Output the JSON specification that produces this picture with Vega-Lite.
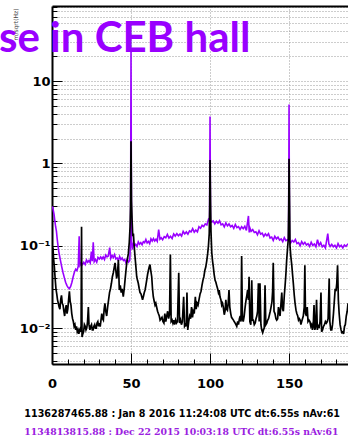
{
  "$schema": "https://vega.github.io/schema/vega-lite/v6.json",
  "width": 296,
  "height": 358,
  "autosize": {"type": "none"},
  "padding": {"left": 52, "top": 6, "right": 0, "bottom": 74},
  "background": "white",
  "config": {"view": {"stroke": null}, "font": "DejaVu Sans"},
  "title": {
    "text": "se in CEB hall",
    "anchor": "start",
    "frame": "group",
    "font": "Lato",
    "fontSize": 42,
    "fontWeight": "bold",
    "color": "#9900ff",
    "baseline": "alphabetic",
    "offset": 0,
    "dx": -53,
    "dy": 93,
    "zindex": 2
  },
  "datasets": {
    "spectra": [
      {"gps":"1134813815.88","f":0.3,"asd":0.30},{"gps":"1134813815.88","f":0.8,"asd":0.27},{"gps":"1134813815.88","f":1.3,"asd":0.24},{"gps":"1134813815.88","f":1.8,"asd":0.2},{"gps":"1134813815.88","f":2.3,"asd":0.17},{"gps":"1134813815.88","f":2.8,"asd":0.15},{"gps":"1134813815.88","f":3.3,"asd":0.12},{"gps":"1134813815.88","f":3.8,"asd":0.1},{"gps":"1134813815.88","f":4.3,"asd":0.085},{"gps":"1134813815.88","f":4.8,"asd":0.075},{"gps":"1134813815.88","f":5.5,"asd":0.064},{"gps":"1134813815.88","f":6.2,"asd":0.055},{"gps":"1134813815.88","f":7,"asd":0.047},{"gps":"1134813815.88","f":7.8,"asd":0.041},{"gps":"1134813815.88","f":8.6,"asd":0.036},{"gps":"1134813815.88","f":9.4,"asd":0.033},{"gps":"1134813815.88","f":10.2,"asd":0.031},{"gps":"1134813815.88","f":11,"asd":0.03},{"gps":"1134813815.88","f":11.8,"asd":0.032},{"gps":"1134813815.88","f":12.6,"asd":0.036},{"gps":"1134813815.88","f":13.4,"asd":0.042},{"gps":"1134813815.88","f":14.2,"asd":0.048},{"gps":"1134813815.88","f":15,"asd":0.052},{"gps":"1134813815.88","f":15.8,"asd":0.05},{"gps":"1134813815.88","f":16.6,"asd":0.056},{"gps":"1134813815.88","f":17.2,"asd":0.13},{"gps":"1134813815.88","f":17.7,"asd":0.058},{"gps":"1134813815.88","f":18.5,"asd":0.062},{"gps":"1134813815.88","f":19.3,"asd":0.059},{"gps":"1134813815.88","f":20.1,"asd":0.063},{"gps":"1134813815.88","f":21,"asd":0.059},{"gps":"1134813815.88","f":21.8,"asd":0.067},{"gps":"1134813815.88","f":22.6,"asd":0.063},{"gps":"1134813815.88","f":23.4,"asd":0.066},{"gps":"1134813815.88","f":24.2,"asd":0.062},{"gps":"1134813815.88","f":24.9,"asd":0.085},{"gps":"1134813815.88","f":25.5,"asd":0.065},{"gps":"1134813815.88","f":26.1,"asd":0.11},{"gps":"1134813815.88","f":26.7,"asd":0.064},{"gps":"1134813815.88","f":27.5,"asd":0.068},{"gps":"1134813815.88","f":28.3,"asd":0.063},{"gps":"1134813815.88","f":29.1,"asd":0.072},{"gps":"1134813815.88","f":30,"asd":0.069},{"gps":"1134813815.88","f":30.8,"asd":0.073},{"gps":"1134813815.88","f":31.6,"asd":0.069},{"gps":"1134813815.88","f":32.4,"asd":0.073},{"gps":"1134813815.88","f":33.2,"asd":0.068},{"gps":"1134813815.88","f":34,"asd":0.077},{"gps":"1134813815.88","f":34.8,"asd":0.073},{"gps":"1134813815.88","f":35.6,"asd":0.075},{"gps":"1134813815.88","f":36.5,"asd":0.095},{"gps":"1134813815.88","f":37.2,"asd":0.07},{"gps":"1134813815.88","f":38,"asd":0.076},{"gps":"1134813815.88","f":38.8,"asd":0.072},{"gps":"1134813815.88","f":39.6,"asd":0.078},{"gps":"1134813815.88","f":40.4,"asd":0.069},{"gps":"1134813815.88","f":41.2,"asd":0.071},{"gps":"1134813815.88","f":42,"asd":0.066},{"gps":"1134813815.88","f":42.8,"asd":0.074},{"gps":"1134813815.88","f":43.6,"asd":0.068},{"gps":"1134813815.88","f":44.4,"asd":0.071},{"gps":"1134813815.88","f":45.2,"asd":0.066},{"gps":"1134813815.88","f":46,"asd":0.068},{"gps":"1134813815.88","f":46.8,"asd":0.062},{"gps":"1134813815.88","f":47.6,"asd":0.069},{"gps":"1134813815.88","f":48.4,"asd":0.063},{"gps":"1134813815.88","f":49.2,"asd":0.066},{"gps":"1134813815.88","f":49.7,"asd":0.12},{"gps":"1134813815.88","f":50,"asd":24},{"gps":"1134813815.88","f":50.3,"asd":0.12},{"gps":"1134813815.88","f":50.8,"asd":0.09},{"gps":"1134813815.88","f":51.5,"asd":0.105},{"gps":"1134813815.88","f":52.3,"asd":0.099},{"gps":"1134813815.88","f":53,"asd":0.104},{"gps":"1134813815.88","f":53.8,"asd":0.098},{"gps":"1134813815.88","f":54.6,"asd":0.111},{"gps":"1134813815.88","f":55.4,"asd":0.104},{"gps":"1134813815.88","f":56.2,"asd":0.109},{"gps":"1134813815.88","f":57,"asd":0.103},{"gps":"1134813815.88","f":57.8,"asd":0.112},{"gps":"1134813815.88","f":58.6,"asd":0.109},{"gps":"1134813815.88","f":59.4,"asd":0.119},{"gps":"1134813815.88","f":60.2,"asd":0.108},{"gps":"1134813815.88","f":61,"asd":0.113},{"gps":"1134813815.88","f":61.8,"asd":0.106},{"gps":"1134813815.88","f":62.6,"asd":0.121},{"gps":"1134813815.88","f":63.4,"asd":0.114},{"gps":"1134813815.88","f":64.2,"asd":0.122},{"gps":"1134813815.88","f":65,"asd":0.114},{"gps":"1134813815.88","f":65.8,"asd":0.12},{"gps":"1134813815.88","f":66.6,"asd":0.113},{"gps":"1134813815.88","f":67.5,"asd":0.157},{"gps":"1134813815.88","f":68.3,"asd":0.12},{"gps":"1134813815.88","f":69.1,"asd":0.125},{"gps":"1134813815.88","f":70,"asd":0.118},{"gps":"1134813815.88","f":71,"asd":0.129},{"gps":"1134813815.88","f":72,"asd":0.125},{"gps":"1134813815.88","f":73,"asd":0.137},{"gps":"1134813815.88","f":74,"asd":0.124},{"gps":"1134813815.88","f":75,"asd":0.13},{"gps":"1134813815.88","f":76,"asd":0.122},{"gps":"1134813815.88","f":77,"asd":0.139},{"gps":"1134813815.88","f":78,"asd":0.131},{"gps":"1134813815.88","f":79,"asd":0.14},{"gps":"1134813815.88","f":80,"asd":0.132},{"gps":"1134813815.88","f":81,"asd":0.139},{"gps":"1134813815.88","f":82,"asd":0.131},{"gps":"1134813815.88","f":83,"asd":0.149},{"gps":"1134813815.88","f":84,"asd":0.139},{"gps":"1134813815.88","f":85,"asd":0.147},{"gps":"1134813815.88","f":86,"asd":0.138},{"gps":"1134813815.88","f":87,"asd":0.151},{"gps":"1134813815.88","f":88,"asd":0.147},{"gps":"1134813815.88","f":89,"asd":0.161},{"gps":"1134813815.88","f":90,"asd":0.146},{"gps":"1134813815.88","f":91,"asd":0.155},{"gps":"1134813815.88","f":92,"asd":0.147},{"gps":"1134813815.88","f":93,"asd":0.17},{"gps":"1134813815.88","f":94,"asd":0.163},{"gps":"1134813815.88","f":95,"asd":0.177},{"gps":"1134813815.88","f":96,"asd":0.171},{"gps":"1134813815.88","f":97,"asd":0.184},{"gps":"1134813815.88","f":98,"asd":0.179},{"gps":"1134813815.88","f":99,"asd":0.208},{"gps":"1134813815.88","f":99.7,"asd":0.2},{"gps":"1134813815.88","f":100,"asd":3.7},{"gps":"1134813815.88","f":100.3,"asd":0.2},{"gps":"1134813815.88","f":101,"asd":0.194},{"gps":"1134813815.88","f":102,"asd":0.2},{"gps":"1134813815.88","f":103,"asd":0.184},{"gps":"1134813815.88","f":104,"asd":0.198},{"gps":"1134813815.88","f":105,"asd":0.188},{"gps":"1134813815.88","f":106,"asd":0.201},{"gps":"1134813815.88","f":107,"asd":0.179},{"gps":"1134813815.88","f":108,"asd":0.184},{"gps":"1134813815.88","f":109,"asd":0.169},{"gps":"1134813815.88","f":110,"asd":0.189},{"gps":"1134813815.88","f":111,"asd":0.174},{"gps":"1134813815.88","f":112,"asd":0.184},{"gps":"1134813815.88","f":113,"asd":0.17},{"gps":"1134813815.88","f":114,"asd":0.176},{"gps":"1134813815.88","f":115,"asd":0.162},{"gps":"1134813815.88","f":116,"asd":0.181},{"gps":"1134813815.88","f":117,"asd":0.166},{"gps":"1134813815.88","f":118,"asd":0.171},{"gps":"1134813815.88","f":119,"asd":0.158},{"gps":"1134813815.88","f":120,"asd":0.17},{"gps":"1134813815.88","f":121,"asd":0.161},{"gps":"1134813815.88","f":122,"asd":0.172},{"gps":"1134813815.88","f":123,"asd":0.153},{"gps":"1134813815.88","f":124.3,"asd":0.23},{"gps":"1134813815.88","f":124.8,"asd":0.145},{"gps":"1134813815.88","f":125.3,"asd":0.163},{"gps":"1134813815.88","f":126,"asd":0.15},{"gps":"1134813815.88","f":127,"asd":0.157},{"gps":"1134813815.88","f":128,"asd":0.145},{"gps":"1134813815.88","f":129,"asd":0.148},{"gps":"1134813815.88","f":130,"asd":0.136},{"gps":"1134813815.88","f":131,"asd":0.152},{"gps":"1134813815.88","f":132,"asd":0.138},{"gps":"1134813815.88","f":133,"asd":0.142},{"gps":"1134813815.88","f":134,"asd":0.13},{"gps":"1134813815.88","f":135,"asd":0.139},{"gps":"1134813815.88","f":136,"asd":0.132},{"gps":"1134813815.88","f":137,"asd":0.14},{"gps":"1134813815.88","f":138,"asd":0.124},{"gps":"1134813815.88","f":139,"asd":0.127},{"gps":"1134813815.88","f":140,"asd":0.116},{"gps":"1134813815.88","f":141,"asd":0.13},{"gps":"1134813815.88","f":142,"asd":0.121},{"gps":"1134813815.88","f":143,"asd":0.127},{"gps":"1134813815.88","f":144,"asd":0.117},{"gps":"1134813815.88","f":145,"asd":0.121},{"gps":"1134813815.88","f":146,"asd":0.112},{"gps":"1134813815.88","f":147,"asd":0.125},{"gps":"1134813815.88","f":148,"asd":0.115},{"gps":"1134813815.88","f":149,"asd":0.118},{"gps":"1134813815.88","f":149.7,"asd":0.116},{"gps":"1134813815.88","f":150,"asd":5.2},{"gps":"1134813815.88","f":150.3,"asd":0.116},{"gps":"1134813815.88","f":151,"asd":0.108},{"gps":"1134813815.88","f":152,"asd":0.116},{"gps":"1134813815.88","f":153,"asd":0.111},{"gps":"1134813815.88","f":154,"asd":0.119},{"gps":"1134813815.88","f":155,"asd":0.106},{"gps":"1134813815.88","f":156,"asd":0.109},{"gps":"1134813815.88","f":157,"asd":0.1},{"gps":"1134813815.88","f":158,"asd":0.112},{"gps":"1134813815.88","f":159,"asd":0.104},{"gps":"1134813815.88","f":160,"asd":0.11},{"gps":"1134813815.88","f":161,"asd":0.102},{"gps":"1134813815.88","f":162,"asd":0.106},{"gps":"1134813815.88","f":163,"asd":0.098},{"gps":"1134813815.88","f":164,"asd":0.11},{"gps":"1134813815.88","f":165,"asd":0.101},{"gps":"1134813815.88","f":166,"asd":0.105},{"gps":"1134813815.88","f":167,"asd":0.097},{"gps":"1134813815.88","f":168,"asd":0.118},{"gps":"1134813815.88","f":169,"asd":0.101},{"gps":"1134813815.88","f":170,"asd":0.109},{"gps":"1134813815.88","f":171,"asd":0.097},{"gps":"1134813815.88","f":172,"asd":0.101},{"gps":"1134813815.88","f":173,"asd":0.094},{"gps":"1134813815.88","f":174.5,"asd":0.14},{"gps":"1134813815.88","f":175.2,"asd":0.105},{"gps":"1134813815.88","f":176,"asd":0.098},{"gps":"1134813815.88","f":177,"asd":0.104},{"gps":"1134813815.88","f":178,"asd":0.097},{"gps":"1134813815.88","f":179,"asd":0.101},{"gps":"1134813815.88","f":180,"asd":0.094},{"gps":"1134813815.88","f":181,"asd":0.106},{"gps":"1134813815.88","f":182,"asd":0.097},{"gps":"1134813815.88","f":183,"asd":0.101},{"gps":"1134813815.88","f":184,"asd":0.094},{"gps":"1134813815.88","f":185,"asd":0.102},{"gps":"1134813815.88","f":186,"asd":0.098},{"gps":"1134813815.88","f":187.3,"asd":0.106},

      {"gps":"1136287465.88","f":0.3,"asd":0.075},{"gps":"1136287465.88","f":0.6,"asd":0.095},{"gps":"1136287465.88","f":1,"asd":0.07},{"gps":"1136287465.88","f":1.5,"asd":0.055},{"gps":"1136287465.88","f":2,"asd":0.04},{"gps":"1136287465.88","f":2.5,"asd":0.03},{"gps":"1136287465.88","f":3,"asd":0.026},{"gps":"1136287465.88","f":3.5,"asd":0.022},{"gps":"1136287465.88","f":4,"asd":0.02},{"gps":"1136287465.88","f":4.5,"asd":0.018},{"gps":"1136287465.88","f":5,"asd":0.017},{"gps":"1136287465.88","f":5.5,"asd":0.022},{"gps":"1136287465.88","f":6,"asd":0.025},{"gps":"1136287465.88","f":6.5,"asd":0.02},{"gps":"1136287465.88","f":7,"asd":0.019},{"gps":"1136287465.88","f":7.5,"asd":0.016},{"gps":"1136287465.88","f":8,"asd":0.014},{"gps":"1136287465.88","f":8.5,"asd":0.017},{"gps":"1136287465.88","f":9,"asd":0.019},{"gps":"1136287465.88","f":9.5,"asd":0.015},{"gps":"1136287465.88","f":10,"asd":0.017},{"gps":"1136287465.88","f":10.5,"asd":0.022},{"gps":"1136287465.88","f":11,"asd":0.028},{"gps":"1136287465.88","f":11.5,"asd":0.021},{"gps":"1136287465.88","f":12,"asd":0.019},{"gps":"1136287465.88","f":12.5,"asd":0.015},{"gps":"1136287465.88","f":13,"asd":0.013},{"gps":"1136287465.88","f":13.5,"asd":0.012},{"gps":"1136287465.88","f":14,"asd":0.0105},{"gps":"1136287465.88","f":14.5,"asd":0.011},{"gps":"1136287465.88","f":15,"asd":0.0095},{"gps":"1136287465.88","f":15.5,"asd":0.0105},{"gps":"1136287465.88","f":16,"asd":0.009},{"gps":"1136287465.88","f":16.5,"asd":0.0095},{"gps":"1136287465.88","f":17,"asd":0.0085},{"gps":"1136287465.88","f":17.5,"asd":0.0095},{"gps":"1136287465.88","f":18,"asd":0.01},{"gps":"1136287465.88","f":18.4,"asd":0.009},{"gps":"1136287465.88","f":18.7,"asd":0.17},{"gps":"1136287465.88","f":19,"asd":0.0078},{"gps":"1136287465.88","f":19.5,"asd":0.0085},{"gps":"1136287465.88","f":20,"asd":0.009},{"gps":"1136287465.88","f":20.5,"asd":0.011},{"gps":"1136287465.88","f":21,"asd":0.0105},{"gps":"1136287465.88","f":21.5,"asd":0.0095},{"gps":"1136287465.88","f":22,"asd":0.01},{"gps":"1136287465.88","f":22.5,"asd":0.012},{"gps":"1136287465.88","f":23,"asd":0.018},{"gps":"1136287465.88","f":23.4,"asd":0.011},{"gps":"1136287465.88","f":24,"asd":0.0095},{"gps":"1136287465.88","f":24.5,"asd":0.0105},{"gps":"1136287465.88","f":25,"asd":0.011},{"gps":"1136287465.88","f":25.5,"asd":0.0095},{"gps":"1136287465.88","f":26,"asd":0.0095},{"gps":"1136287465.88","f":26.5,"asd":0.0105},{"gps":"1136287465.88","f":27,"asd":0.011},{"gps":"1136287465.88","f":27.5,"asd":0.01},{"gps":"1136287465.88","f":28,"asd":0.01},{"gps":"1136287465.88","f":28.5,"asd":0.0115},{"gps":"1136287465.88","f":29,"asd":0.012},{"gps":"1136287465.88","f":29.5,"asd":0.0105},{"gps":"1136287465.88","f":30,"asd":0.0115},{"gps":"1136287465.88","f":30.5,"asd":0.0104},{"gps":"1136287465.88","f":31,"asd":0.0125},{"gps":"1136287465.88","f":31.5,"asd":0.015},{"gps":"1136287465.88","f":32,"asd":0.013},{"gps":"1136287465.88","f":32.5,"asd":0.0125},{"gps":"1136287465.88","f":33,"asd":0.017},{"gps":"1136287465.88","f":33.5,"asd":0.02},{"gps":"1136287465.88","f":34,"asd":0.016},{"gps":"1136287465.88","f":34.6,"asd":0.014},{"gps":"1136287465.88","f":35.2,"asd":0.018},{"gps":"1136287465.88","f":35.8,"asd":0.022},{"gps":"1136287465.88","f":36.4,"asd":0.027},{"gps":"1136287465.88","f":37,"asd":0.03},{"gps":"1136287465.88","f":37.6,"asd":0.035},{"gps":"1136287465.88","f":38.2,"asd":0.042},{"gps":"1136287465.88","f":38.8,"asd":0.047},{"gps":"1136287465.88","f":39.4,"asd":0.055},{"gps":"1136287465.88","f":39.9,"asd":0.062},{"gps":"1136287465.88","f":40.4,"asd":0.05},{"gps":"1136287465.88","f":40.9,"asd":0.04},{"gps":"1136287465.88","f":41.4,"asd":0.045},{"gps":"1136287465.88","f":42,"asd":0.067},{"gps":"1136287465.88","f":42.6,"asd":0.029},{"gps":"1136287465.88","f":43.2,"asd":0.033},{"gps":"1136287465.88","f":43.8,"asd":0.027},{"gps":"1136287465.88","f":44.4,"asd":0.03},{"gps":"1136287465.88","f":45.1,"asd":0.024},{"gps":"1136287465.88","f":45.7,"asd":0.03},{"gps":"1136287465.88","f":46.2,"asd":0.038},{"gps":"1136287465.88","f":46.8,"asd":0.05},{"gps":"1136287465.88","f":47.3,"asd":0.062},{"gps":"1136287465.88","f":47.8,"asd":0.07},{"gps":"1136287465.88","f":48.3,"asd":0.08},{"gps":"1136287465.88","f":48.9,"asd":0.11},{"gps":"1136287465.88","f":49.4,"asd":0.17},{"gps":"1136287465.88","f":49.7,"asd":0.3},{"gps":"1136287465.88","f":50,"asd":1.85},{"gps":"1136287465.88","f":50.3,"asd":0.35},{"gps":"1136287465.88","f":50.7,"asd":0.2},{"gps":"1136287465.88","f":51.1,"asd":0.13},{"gps":"1136287465.88","f":51.5,"asd":0.14},{"gps":"1136287465.88","f":52,"asd":0.1},{"gps":"1136287465.88","f":52.5,"asd":0.075},{"gps":"1136287465.88","f":53,"asd":0.058},{"gps":"1136287465.88","f":53.6,"asd":0.042},{"gps":"1136287465.88","f":54.1,"asd":0.038},{"gps":"1136287465.88","f":54.6,"asd":0.035},{"gps":"1136287465.88","f":55.2,"asd":0.03},{"gps":"1136287465.88","f":55.7,"asd":0.027},{"gps":"1136287465.88","f":56.3,"asd":0.026},{"gps":"1136287465.88","f":56.8,"asd":0.024},{"gps":"1136287465.88","f":57.3,"asd":0.022},{"gps":"1136287465.88","f":57.8,"asd":0.024},{"gps":"1136287465.88","f":58.4,"asd":0.027},{"gps":"1136287465.88","f":58.9,"asd":0.029},{"gps":"1136287465.88","f":59.4,"asd":0.033},{"gps":"1136287465.88","f":59.9,"asd":0.038},{"gps":"1136287465.88","f":60.5,"asd":0.045},{"gps":"1136287465.88","f":61,"asd":0.05},{"gps":"1136287465.88","f":61.5,"asd":0.055},{"gps":"1136287465.88","f":62,"asd":0.059},{"gps":"1136287465.88","f":62.5,"asd":0.05},{"gps":"1136287465.88","f":63.1,"asd":0.042},{"gps":"1136287465.88","f":63.6,"asd":0.03},{"gps":"1136287465.88","f":64.1,"asd":0.024},{"gps":"1136287465.88","f":64.7,"asd":0.021},{"gps":"1136287465.88","f":65.2,"asd":0.019},{"gps":"1136287465.88","f":65.7,"asd":0.02},{"gps":"1136287465.88","f":66.2,"asd":0.018},{"gps":"1136287465.88","f":66.8,"asd":0.016},{"gps":"1136287465.88","f":67.3,"asd":0.015},{"gps":"1136287465.88","f":67.9,"asd":0.014},{"gps":"1136287465.88","f":68.4,"asd":0.0125},{"gps":"1136287465.88","f":69,"asd":0.013},{"gps":"1136287465.88","f":69.6,"asd":0.0135},{"gps":"1136287465.88","f":70.2,"asd":0.012},{"gps":"1136287465.88","f":70.8,"asd":0.0115},{"gps":"1136287465.88","f":71.4,"asd":0.015},{"gps":"1136287465.88","f":72,"asd":0.012},{"gps":"1136287465.88","f":72.6,"asd":0.014},{"gps":"1136287465.88","f":73.2,"asd":0.016},{"gps":"1136287465.88","f":73.8,"asd":0.013},{"gps":"1136287465.88","f":74.4,"asd":0.015},{"gps":"1136287465.88","f":74.9,"asd":0.078},{"gps":"1136287465.88","f":75.4,"asd":0.012},{"gps":"1136287465.88","f":76,"asd":0.0125},{"gps":"1136287465.88","f":76.5,"asd":0.0115},{"gps":"1136287465.88","f":77,"asd":0.0125},{"gps":"1136287465.88","f":77.6,"asd":0.011},{"gps":"1136287465.88","f":78.2,"asd":0.0125},{"gps":"1136287465.88","f":78.8,"asd":0.0115},{"gps":"1136287465.88","f":79.4,"asd":0.012},{"gps":"1136287465.88","f":80.2,"asd":0.047},{"gps":"1136287465.88","f":80.7,"asd":0.0115},{"gps":"1136287465.88","f":81.3,"asd":0.0125},{"gps":"1136287465.88","f":81.9,"asd":0.011},{"gps":"1136287465.88","f":82.5,"asd":0.012},{"gps":"1136287465.88","f":83.3,"asd":0.024},{"gps":"1136287465.88","f":83.9,"asd":0.0105},{"gps":"1136287465.88","f":84.5,"asd":0.011},{"gps":"1136287465.88","f":85,"asd":0.0105},{"gps":"1136287465.88","f":85.4,"asd":0.027},{"gps":"1136287465.88","f":85.9,"asd":0.0095},{"gps":"1136287465.88","f":86.5,"asd":0.012},{"gps":"1136287465.88","f":87.1,"asd":0.014},{"gps":"1136287465.88","f":87.7,"asd":0.013},{"gps":"1136287465.88","f":88.3,"asd":0.018},{"gps":"1136287465.88","f":88.9,"asd":0.0135},{"gps":"1136287465.88","f":89.4,"asd":0.016},{"gps":"1136287465.88","f":90,"asd":0.015},{"gps":"1136287465.88","f":90.7,"asd":0.024},{"gps":"1136287465.88","f":91.2,"asd":0.017},{"gps":"1136287465.88","f":91.8,"asd":0.02},{"gps":"1136287465.88","f":92.4,"asd":0.019},{"gps":"1136287465.88","f":93,"asd":0.022},{"gps":"1136287465.88","f":93.7,"asd":0.026},{"gps":"1136287465.88","f":94.3,"asd":0.028},{"gps":"1136287465.88","f":94.9,"asd":0.033},{"gps":"1136287465.88","f":95.5,"asd":0.038},{"gps":"1136287465.88","f":96.1,"asd":0.042},{"gps":"1136287465.88","f":96.7,"asd":0.05},{"gps":"1136287465.88","f":97.3,"asd":0.055},{"gps":"1136287465.88","f":97.9,"asd":0.065},{"gps":"1136287465.88","f":98.5,"asd":0.08},{"gps":"1136287465.88","f":99,"asd":0.1},{"gps":"1136287465.88","f":99.5,"asd":0.14},{"gps":"1136287465.88","f":99.8,"asd":0.3},{"gps":"1136287465.88","f":100,"asd":1.1},{"gps":"1136287465.88","f":100.3,"asd":0.35},{"gps":"1136287465.88","f":100.6,"asd":0.15},{"gps":"1136287465.88","f":101.1,"asd":0.082},{"gps":"1136287465.88","f":101.6,"asd":0.065},{"gps":"1136287465.88","f":102.1,"asd":0.055},{"gps":"1136287465.88","f":102.6,"asd":0.045},{"gps":"1136287465.88","f":103.2,"asd":0.038},{"gps":"1136287465.88","f":103.7,"asd":0.036},{"gps":"1136287465.88","f":104.2,"asd":0.033},{"gps":"1136287465.88","f":104.8,"asd":0.03},{"gps":"1136287465.88","f":105.3,"asd":0.027},{"gps":"1136287465.88","f":105.8,"asd":0.029},{"gps":"1136287465.88","f":106.3,"asd":0.024},{"gps":"1136287465.88","f":106.9,"asd":0.022},{"gps":"1136287465.88","f":107.4,"asd":0.019},{"gps":"1136287465.88","f":107.9,"asd":0.02},{"gps":"1136287465.88","f":108.4,"asd":0.018},{"gps":"1136287465.88","f":109,"asd":0.0145},{"gps":"1136287465.88","f":109.5,"asd":0.016},{"gps":"1136287465.88","f":110,"asd":0.022},{"gps":"1136287465.88","f":110.5,"asd":0.017},{"gps":"1136287465.88","f":111,"asd":0.0165},{"gps":"1136287465.88","f":111.5,"asd":0.02},{"gps":"1136287465.88","f":112,"asd":0.029},{"gps":"1136287465.88","f":112.5,"asd":0.018},{"gps":"1136287465.88","f":113.1,"asd":0.015},{"gps":"1136287465.88","f":113.6,"asd":0.0135},{"gps":"1136287465.88","f":114.2,"asd":0.013},{"gps":"1136287465.88","f":114.8,"asd":0.0125},{"gps":"1136287465.88","f":115.3,"asd":0.012},{"gps":"1136287465.88","f":115.9,"asd":0.0115},{"gps":"1136287465.88","f":116.4,"asd":0.011},{"gps":"1136287465.88","f":116.9,"asd":0.0105},{"gps":"1136287465.88","f":117.5,"asd":0.012},{"gps":"1136287465.88","f":118,"asd":0.011},{"gps":"1136287465.88","f":118.6,"asd":0.013},{"gps":"1136287465.88","f":119.1,"asd":0.014},{"gps":"1136287465.88","f":119.6,"asd":0.012},{"gps":"1136287465.88","f":120,"asd":0.075},{"gps":"1136287465.88","f":120.5,"asd":0.013},{"gps":"1136287465.88","f":121,"asd":0.012},{"gps":"1136287465.88","f":121.6,"asd":0.014},{"gps":"1136287465.88","f":122.2,"asd":0.018},{"gps":"1136287465.88","f":122.8,"asd":0.022},{"gps":"1136287465.88","f":123.3,"asd":0.025},{"gps":"1136287465.88","f":123.8,"asd":0.029},{"gps":"1136287465.88","f":124.3,"asd":0.022},{"gps":"1136287465.88","f":124.7,"asd":0.042},{"gps":"1136287465.88","f":125.2,"asd":0.012},{"gps":"1136287465.88","f":125.8,"asd":0.011},{"gps":"1136287465.88","f":126.4,"asd":0.038},{"gps":"1136287465.88","f":126.9,"asd":0.0125},{"gps":"1136287465.88","f":127.4,"asd":0.0125},{"gps":"1136287465.88","f":128,"asd":0.011},{"gps":"1136287465.88","f":128.6,"asd":0.0115},{"gps":"1136287465.88","f":129.1,"asd":0.013},{"gps":"1136287465.88","f":129.6,"asd":0.014},{"gps":"1136287465.88","f":130.1,"asd":0.016},{"gps":"1136287465.88","f":130.6,"asd":0.035},{"gps":"1136287465.88","f":131.1,"asd":0.012},{"gps":"1136287465.88","f":131.6,"asd":0.035},{"gps":"1136287465.88","f":132.2,"asd":0.011},{"gps":"1136287465.88","f":132.7,"asd":0.0095},{"gps":"1136287465.88","f":133.3,"asd":0.0088},{"gps":"1136287465.88","f":133.8,"asd":0.0095},{"gps":"1136287465.88","f":134.3,"asd":0.01},{"gps":"1136287465.88","f":134.8,"asd":0.033},{"gps":"1136287465.88","f":135.3,"asd":0.011},{"gps":"1136287465.88","f":135.9,"asd":0.0115},{"gps":"1136287465.88","f":136.5,"asd":0.0125},{"gps":"1136287465.88","f":137,"asd":0.013},{"gps":"1136287465.88","f":137.6,"asd":0.0145},{"gps":"1136287465.88","f":138.1,"asd":0.016},{"gps":"1136287465.88","f":138.6,"asd":0.018},{"gps":"1136287465.88","f":139.2,"asd":0.021},{"gps":"1136287465.88","f":139.6,"asd":0.028},{"gps":"1136287465.88","f":140,"asd":0.062},{"gps":"1136287465.88","f":140.5,"asd":0.016},{"gps":"1136287465.88","f":141.1,"asd":0.015},{"gps":"1136287465.88","f":141.7,"asd":0.013},{"gps":"1136287465.88","f":142.2,"asd":0.0125},{"gps":"1136287465.88","f":142.8,"asd":0.013},{"gps":"1136287465.88","f":143.3,"asd":0.018},{"gps":"1136287465.88","f":143.8,"asd":0.016},{"gps":"1136287465.88","f":144.3,"asd":0.014},{"gps":"1136287465.88","f":144.9,"asd":0.02},{"gps":"1136287465.88","f":145.4,"asd":0.027},{"gps":"1136287465.88","f":145.9,"asd":0.017},{"gps":"1136287465.88","f":146.4,"asd":0.016},{"gps":"1136287465.88","f":147,"asd":0.025},{"gps":"1136287465.88","f":147.5,"asd":0.033},{"gps":"1136287465.88","f":148,"asd":0.045},{"gps":"1136287465.88","f":148.5,"asd":0.067},{"gps":"1136287465.88","f":149,"asd":0.09},{"gps":"1136287465.88","f":149.5,"asd":0.12},{"gps":"1136287465.88","f":149.8,"asd":0.3},{"gps":"1136287465.88","f":150,"asd":1.14},{"gps":"1136287465.88","f":150.3,"asd":0.35},{"gps":"1136287465.88","f":150.6,"asd":0.1},{"gps":"1136287465.88","f":151.1,"asd":0.075},{"gps":"1136287465.88","f":151.7,"asd":0.059},{"gps":"1136287465.88","f":152.2,"asd":0.045},{"gps":"1136287465.88","f":152.7,"asd":0.035},{"gps":"1136287465.88","f":153.3,"asd":0.025},{"gps":"1136287465.88","f":153.8,"asd":0.02},{"gps":"1136287465.88","f":154.4,"asd":0.0165},{"gps":"1136287465.88","f":154.9,"asd":0.015},{"gps":"1136287465.88","f":155.5,"asd":0.014},{"gps":"1136287465.88","f":156,"asd":0.0125},{"gps":"1136287465.88","f":156.5,"asd":0.013},{"gps":"1136287465.88","f":157,"asd":0.0125},{"gps":"1136287465.88","f":157.5,"asd":0.011},{"gps":"1136287465.88","f":158,"asd":0.012},{"gps":"1136287465.88","f":158.5,"asd":0.013},{"gps":"1136287465.88","f":159,"asd":0.014},{"gps":"1136287465.88","f":159.6,"asd":0.018},{"gps":"1136287465.88","f":160,"asd":0.058},{"gps":"1136287465.88","f":160.4,"asd":0.015},{"gps":"1136287465.88","f":161,"asd":0.014},{"gps":"1136287465.88","f":161.5,"asd":0.018},{"gps":"1136287465.88","f":162,"asd":0.012},{"gps":"1136287465.88","f":162.6,"asd":0.0125},{"gps":"1136287465.88","f":163.2,"asd":0.012},{"gps":"1136287465.88","f":163.8,"asd":0.0105},{"gps":"1136287465.88","f":164.3,"asd":0.011},{"gps":"1136287465.88","f":164.8,"asd":0.0095},{"gps":"1136287465.88","f":165.3,"asd":0.0105},{"gps":"1136287465.88","f":165.8,"asd":0.019},{"gps":"1136287465.88","f":166.3,"asd":0.0095},{"gps":"1136287465.88","f":166.9,"asd":0.0105},{"gps":"1136287465.88","f":167.4,"asd":0.022},{"gps":"1136287465.88","f":167.9,"asd":0.0095},{"gps":"1136287465.88","f":168.5,"asd":0.011},{"gps":"1136287465.88","f":169,"asd":0.01},{"gps":"1136287465.88","f":169.6,"asd":0.012},{"gps":"1136287465.88","f":170.2,"asd":0.027},{"gps":"1136287465.88","f":170.6,"asd":0.009},{"gps":"1136287465.88","f":171.2,"asd":0.0095},{"gps":"1136287465.88","f":171.8,"asd":0.0105},{"gps":"1136287465.88","f":172.4,"asd":0.011},{"gps":"1136287465.88","f":173,"asd":0.012},{"gps":"1136287465.88","f":173.6,"asd":0.0115},{"gps":"1136287465.88","f":174.2,"asd":0.012},{"gps":"1136287465.88","f":174.7,"asd":0.013},{"gps":"1136287465.88","f":175.4,"asd":0.04},{"gps":"1136287465.88","f":175.8,"asd":0.012},{"gps":"1136287465.88","f":176.4,"asd":0.0095},{"gps":"1136287465.88","f":177,"asd":0.0095},{"gps":"1136287465.88","f":177.5,"asd":0.011},{"gps":"1136287465.88","f":178.1,"asd":0.015},{"gps":"1136287465.88","f":178.7,"asd":0.022},{"gps":"1136287465.88","f":179.2,"asd":0.03},{"gps":"1136287465.88","f":179.7,"asd":0.028},{"gps":"1136287465.88","f":180.2,"asd":0.035},{"gps":"1136287465.88","f":180.7,"asd":0.058},{"gps":"1136287465.88","f":181.2,"asd":0.022},{"gps":"1136287465.88","f":181.7,"asd":0.015},{"gps":"1136287465.88","f":182.3,"asd":0.011},{"gps":"1136287465.88","f":182.9,"asd":0.0095},{"gps":"1136287465.88","f":183.4,"asd":0.0088},{"gps":"1136287465.88","f":184,"asd":0.009},{"gps":"1136287465.88","f":184.5,"asd":0.0085},{"gps":"1136287465.88","f":185.1,"asd":0.0105},{"gps":"1136287465.88","f":185.6,"asd":0.011},{"gps":"1136287465.88","f":186.2,"asd":0.014},{"gps":"1136287465.88","f":186.8,"asd":0.016},{"gps":"1136287465.88","f":187.3,"asd":0.02}
    ]
  },
  "data": {"name": "spectra"},
  "encoding": {
    "y": {
      "field": "asd",
      "type": "quantitative",
      "scale": {"type": "log", "domain": [0.00366, 81.5], "nice": false},
      "axis": {
        "values": [0.004,0.005,0.006,0.007,0.008,0.009,0.01,0.02,0.03,0.04,0.05,0.06,0.07,0.08,0.09,0.1,0.2,0.3,0.4,0.5,0.6,0.7,0.8,0.9,1,2,3,4,5,6,7,8,9,10,20,30,40,50,60,70,80],
        "labelExpr": "datum.value == 10 ? '10' : datum.value == 1 ? '1' : datum.value == 0.1 ? '10⁻¹' : datum.value == 0.01 ? '10⁻²' : ''",
        "labelOverlap": false,
        "labelFlush": false,
        "labelFont": "DejaVu Sans",
        "labelFontSize": 13,
        "labelFontWeight": "bold",
        "labelColor": "#000000",
        "labelPadding": 12,
        "tickSize": {"condition": {"test": "datum.value == 10 || datum.value == 1 || datum.value == 0.1 || datum.value == 0.01", "value": -10}, "value": -5},
        "tickColor": "#000000",
        "tickWidth": 1,
        "domainColor": "#000000",
        "domainWidth": 2,
        "grid": true,
        "gridColor": "#9a9a9a",
        "gridDash": [1, 2],
        "gridWidth": 1,
        "title": "m/sqrt(Hz)",
        "titleFont": "DejaVu Sans",
        "titleFontSize": 6,
        "titleFontWeight": "normal",
        "titleColor": "#444444",
        "titleAngle": 270,
        "titleAlign": "right",
        "titleBaseline": "middle",
        "titleX": -37,
        "titleY": 2
      }
    },
    "color": {
      "field": "gps",
      "type": "nominal",
      "scale": {"domain": ["1136287465.88", "1134813815.88"], "range": ["#000000", "#9900ff"]},
      "legend": {
        "orient": "none",
        "legendX": -37,
        "legendY": 403,
        "direction": "vertical",
        "title": null,
        "symbolSize": 0,
        "symbolOpacity": 0,
        "symbolStrokeWidth": 0,
        "labelOffset": 0,
        "labelLimit": 500,
        "rowPadding": 8,
        "labelExpr": "datum.value == '1136287465.88' ? '1136287465.88 : Jan  8 2016 11:24:08 UTC dt:6.55s nAv:61' : '1134813815.88 : Dec 22 2015 10:03:18 UTC dt:6.55s nAv:61'",
        "encode": {
          "labels": {
            "update": {
              "fill": {"signal": "datum.value == '1136287465.88' ? '#000000' : '#9a20e0'"},
              "font": {"signal": "datum.value == '1136287465.88' ? 'DejaVu Sans' : 'DejaVu Serif'"},
              "fontSize": {"signal": "datum.value == '1136287465.88' ? 9.6 : 9.3"},
              "fontWeight": {"value": "bold"}
            }
          }
        }
      }
    }
  },
  "layer": [
    {
      "transform": [{"filter": "datum.gps == '1134813815.88'"}],
      "mark": {"type": "line", "strokeWidth": 1.6, "clip": true, "interpolate": "linear"},
      "encoding": {
        "x": {
          "field": "f",
          "type": "quantitative",
          "scale": {"domain": [0, 187.3], "nice": false, "zero": false},
          "axis": {
            "values": [0,10,20,30,40,50,60,70,80,90,100,110,120,130,140,150,160,170,180],
            "labelExpr": "datum.value % 50 == 0 ? format(datum.value, 'd') : ''",
            "labelOverlap": false,
            "labelFlush": false,
            "labelFont": "DejaVu Sans",
            "labelFontSize": 13,
            "labelFontWeight": "bold",
            "labelColor": "#000000",
            "labelPadding": 24,
            "tickSize": {"condition": {"test": "datum.value % 50 == 0", "value": -11}, "value": -5},
            "tickColor": "#000000",
            "tickWidth": 1,
            "domainColor": "#000000",
            "domainWidth": 2,
            "grid": true,
            "gridColor": "#9a9a9a",
            "gridDash": [1, 2],
            "gridWidth": 1,
            "gridOpacity": {"condition": {"test": "datum.value % 50 == 0 && datum.value > 0", "value": 1}, "value": 0},
            "title": null
          }
        }
      }
    },
    {
      "transform": [{"filter": "datum.gps == '1136287465.88'"}],
      "mark": {"type": "line", "strokeWidth": 1.7, "clip": true, "interpolate": "linear"},
      "encoding": {
        "x": {
          "field": "f",
          "type": "quantitative",
          "scale": {"domain": [0, 187.3], "nice": false, "zero": false},
          "axis": {
            "orient": "top",
            "labels": false,
            "ticks": false,
            "grid": false,
            "domain": true,
            "domainColor": "#000000",
            "domainWidth": 2,
            "title": null
          }
        }
      }
    }
  ],
  "resolve": {"axis": {"x": "independent"}}
}
